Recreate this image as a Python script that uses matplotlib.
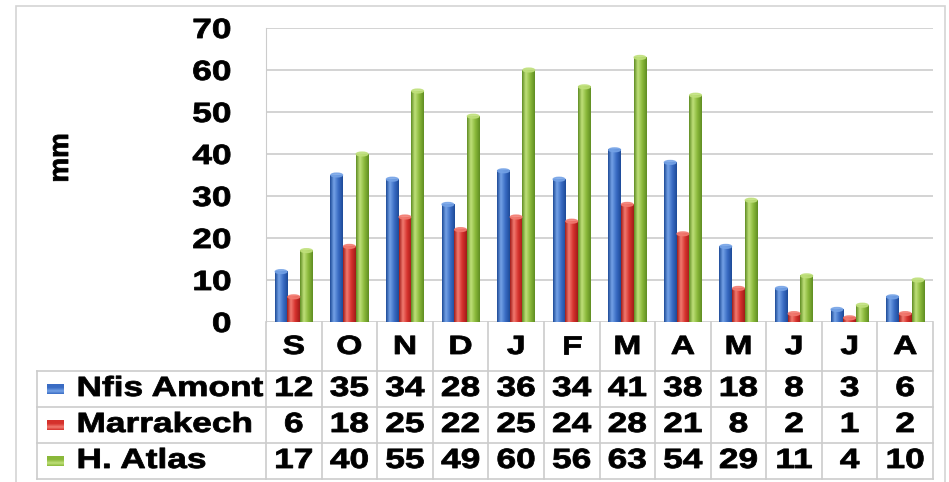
import numpy as np
import matplotlib
matplotlib.use("Agg")
import matplotlib.pyplot as plt
from matplotlib.patches import Ellipse, Rectangle
from matplotlib.patheffects import AbstractPathEffect
from matplotlib.transforms import Affine2D

# Monthly rainfall (mm), hydrological year Sept -> Aug
months = ["S", "O", "N", "D", "J", "F", "M", "A", "M", "J", "J", "A"]
series_names = ["Nfis Amont", "Marrakech", "H. Atlas"]
nfis_amont = [12, 35, 34, 28, 36, 34, 41, 38, 18, 8, 3, 6]
marrakech = [6, 18, 25, 22, 25, 24, 28, 21, 8, 2, 1, 2]
haut_atlas = [17, 40, 55, 49, 60, 56, 63, 54, 29, 11, 4, 10]
yticks = [0, 10, 20, 30, 40, 50, 60, 70]

# (dark edge, base, highlight) for the cylinder shading
shades = [
    ("#1d4a98", "#3a6cc4", "#74a2e6"),
    ("#a01c19", "#d5312c", "#f27a70"),
    ("#5f8d22", "#8ab83a", "#bfe07a"),
]

plt.rcParams["font.family"] = ["Liberation Sans", "DejaVu Sans"]
plt.rcParams["font.weight"] = "bold"

W, H = 949, 482
GRID = "#cccccc"


class Widen(AbstractPathEffect):
    """Stretch glyphs horizontally (in display space) around an anchor,
    with a thin outline to make the strokes heavier."""

    def __init__(self, sx, anchor="center", stroke=0.6):
        super().__init__()
        self.sx = sx
        self.anchor = anchor
        self.stroke = stroke

    def draw_path(self, renderer, gc, tpath, affine, rgbFace=None):
        ext = tpath.get_extents(affine)
        if self.anchor == "left":
            cx = ext.x0
        elif self.anchor == "right":
            cx = ext.x1
        else:
            cx = (ext.x0 + ext.x1) / 2
        stretch = Affine2D().translate(-cx, 0).scale(self.sx, 1).translate(cx, 0)
        gc0 = renderer.new_gc()
        gc0.copy_properties(gc)
        gc0.set_linewidth(self.stroke)
        if rgbFace is not None:
            gc0.set_foreground(rgbFace)
        renderer.draw_path(gc0, tpath, affine + stretch, rgbFace)
        gc0.restore()


def px_box(l, t, r, b):
    return [l / W, 1 - b / H, (r - l) / W, (b - t) / H]


def gradient(colors, n=64):
    dark, base, light = [np.array(matplotlib.colors.to_rgb(c)) for c in colors]
    t = np.linspace(0, 1, n)
    stops = [0.0, 0.3, 0.65, 1.0]
    cols = [dark, light, base, dark]
    rgb = np.stack([np.interp(t, stops, [c[k] for c in cols]) for k in range(3)], axis=-1)
    return rgb[np.newaxis, :, :]


STRETCH = 1.27
FS = 20

fig = plt.figure(figsize=(W / 100, H / 100), dpi=100)

# outer chart frame
fig.add_artist(Rectangle((16 / W, -0.01), (945 - 16) / W, 1 - 6 / H + 0.01,
                         transform=fig.transFigure, fill=False, ec="#d4d4d4", lw=1.2))

# ---- bar chart ----
ax = fig.add_axes(px_box(266, 28, 933, 322))
x = np.arange(len(months))
bw = 0.228
all_series = [nfis_amont, marrakech, haut_atlas]
for i, vals in enumerate(all_series):
    img = gradient(shades[i])
    top = matplotlib.colors.to_rgb(shades[i][2])
    for xi, v in zip(x, vals):
        x0 = xi + (i - 1) * bw - bw / 2
        ax.imshow(img, extent=[x0, x0 + bw, 0, v], aspect="auto", zorder=3,
                  interpolation="bilinear")
        ax.add_patch(Ellipse((x0 + bw / 2, v), bw * 0.92, 0.9, color=top,
                             zorder=4, alpha=0.85))

ax.set_xlim(-0.5, 11.5)
ax.set_ylim(0, 70)
ax.set_yticks(yticks)
ax.set_yticklabels([str(t) for t in yticks], fontsize=FS, fontweight="bold")
for lbl in ax.get_yticklabels():
    lbl.set_path_effects([Widen(STRETCH, "right")])
ax.tick_params(axis="y", length=0, pad=25)
ax.set_xticks([])
ax.yaxis.grid(True, color=GRID, lw=1.2)
ax.set_axisbelow(True)
for s in ["top", "right", "bottom"]:
    ax.spines[s].set_visible(False)
ax.spines["left"].set_color(GRID)

fig.text(61 / W, 1 - 158 / H, "mm", rotation=90, fontsize=FS, fontweight="bold",
         ha="center", va="center", path_effects=[Widen(1.0)])

# ---- data table ----
tab = fig.add_axes(px_box(37, 322, 933, 480))
cat_px = (933 - 266) / 12
x_left = -0.5 - (266 - 37) / cat_px
tab.set_xlim(x_left, 11.5)
tab.set_ylim(158, 0)
tab.axis("off")

row_edges = [49, 85, 121, 157]
for k in range(13):
    tab.plot([k - 0.5, k - 0.5], [0, 157], color=GRID, lw=1.2, clip_on=False)
tab.plot([x_left, x_left], [49, 157], color=GRID, lw=1.2, clip_on=False)
for y in row_edges:
    tab.plot([x_left, 11.5], [y, y], color=GRID, lw=1.2, clip_on=False)

for xi, m in zip(x, months):
    tab.text(xi, 25, m, ha="center", va="center", fontsize=FS - 1, fontweight="bold",
             path_effects=[Widen(STRETCH)])

key_x = x_left + (47 - 37) / cat_px
key_w = 17 / cat_px
label_x = x_left + (77 - 37) / cat_px
for r, (name, vals) in enumerate(zip(series_names, all_series)):
    yc = (row_edges[r] + row_edges[r + 1]) / 2
    key = np.transpose(gradient((shades[r][1], shades[r][1], shades[r][2])), (1, 0, 2))[::-1]
    tab.imshow(key, extent=[key_x, key_x + key_w, yc + 5, yc - 5], aspect="auto", zorder=3)
    tab.text(label_x, yc, name, ha="left", va="center", fontsize=FS, fontweight="bold",
             path_effects=[Widen(STRETCH, "left")])
    for xi, v in zip(x, vals):
        tab.text(xi, yc, str(v), ha="center", va="center", fontsize=FS,
                 fontweight="bold", path_effects=[Widen(STRETCH)])

tab.set_xlim(x_left, 11.5)
tab.set_ylim(158, 0)

fig.savefig("out.png", dpi=100)
